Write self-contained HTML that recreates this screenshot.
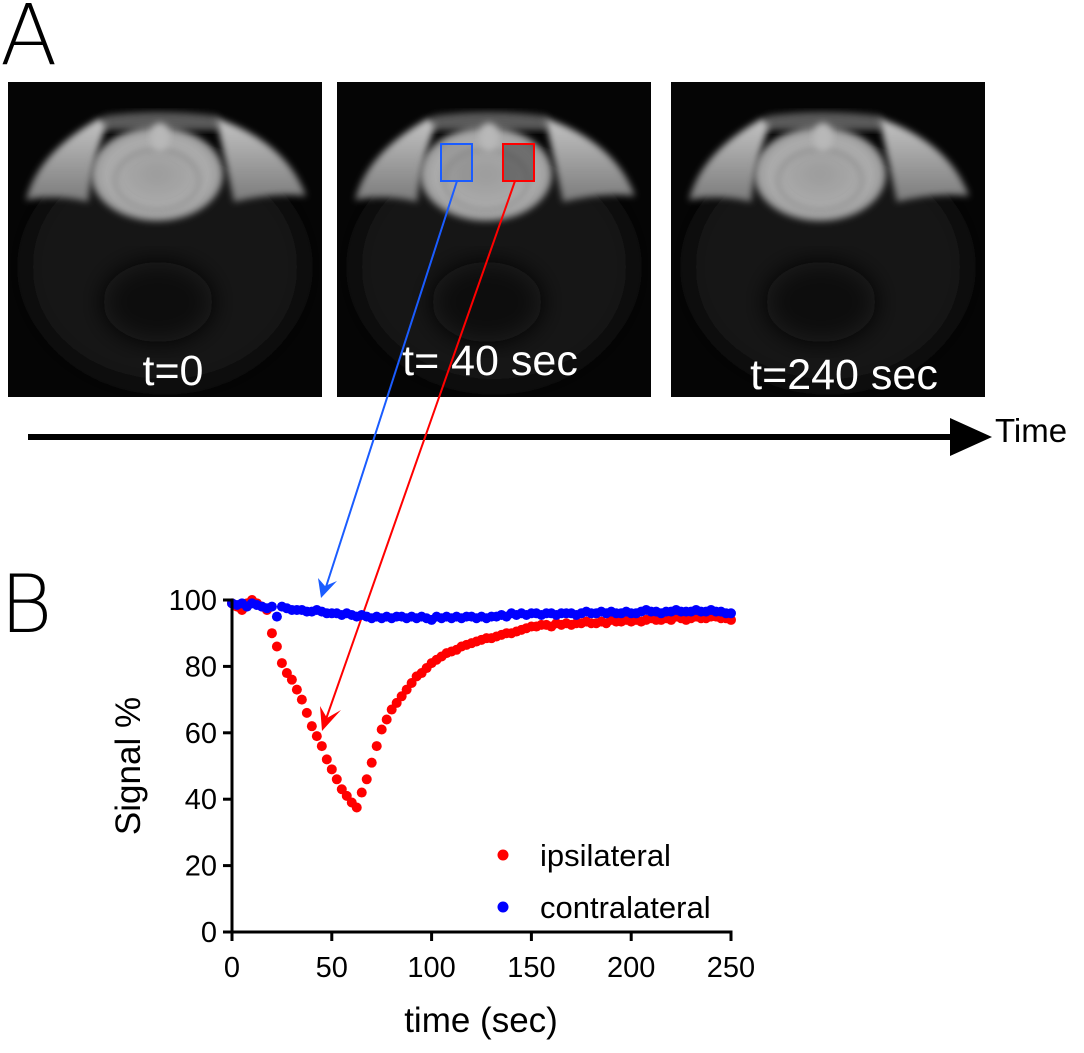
<!DOCTYPE html>
<html><head><meta charset="utf-8">
<style>
body{margin:0;background:#fff;width:1084px;height:1053px;overflow:hidden;font-family:"Liberation Sans",sans-serif}
svg{display:block}
</style></head><body>
<svg id="fig" width="1084" height="1053" viewBox="0 0 1084 1053">
<defs>
<clipPath id="panelClip"><rect x="0" y="0" width="314" height="315"/></clipPath>
<filter id="blur" x="-20%" y="-20%" width="140%" height="140%"><feGaussianBlur stdDeviation="3.5"/></filter>
<filter id="blur2" x="-20%" y="-20%" width="140%" height="140%"><feGaussianBlur stdDeviation="12"/></filter>
<radialGradient id="brainG" cx="50%" cy="50%" r="55%"><stop offset="0" stop-color="#9c9c9c"/><stop offset="0.7" stop-color="#acacac"/><stop offset="1" stop-color="#8c8c8c"/></radialGradient>
<linearGradient id="lobeG" x1="0" y1="0" x2="0" y2="1"><stop offset="0" stop-color="#c4c4c4"/><stop offset="1" stop-color="#7a7a7a"/></linearGradient>
<g id="mri">
<g clip-path="url(#panelClip)">
<rect x="0" y="0" width="314" height="315" fill="#050505"/>
<ellipse cx="157" cy="185" rx="140" ry="120" fill="#151515" filter="url(#blur2)"/>
<ellipse cx="150" cy="220" rx="55" ry="40" fill="#0b0b0b" filter="url(#blur2)"/>
<path d="M95,34 Q150,26 210,34 L212,48 L92,48Z" fill="#5a5a5a" filter="url(#blur)"/>
<path d="M18,118 Q30,70 92,36 L98,44 Q84,80 80,120 Q50,112 18,118Z" fill="url(#lobeG)" filter="url(#blur)"/>
<path d="M208,36 Q278,60 298,114 Q265,110 226,120 Q218,80 208,36Z" fill="url(#lobeG)" filter="url(#blur)"/>
<ellipse cx="149" cy="92" rx="66" ry="47" fill="url(#brainG)" filter="url(#blur)"/>
<ellipse cx="149" cy="98" rx="42" ry="30" fill="none" stroke="#8c8c8c" stroke-width="3" filter="url(#blur)"/>
<ellipse cx="152" cy="55" rx="10" ry="14" fill="#b8b8b8" filter="url(#blur)"/>
</g>
</g>
</defs>

<text x="0" y="64" font-size="84" font-family="DejaVu Sans, sans-serif" font-weight="200" fill="#000">A</text>
<text x="0" y="632" font-size="80" font-family="DejaVu Sans, sans-serif" font-weight="200" fill="#000">B</text>

<g transform="translate(8,82)"><use href="#mri"/></g>
<g transform="translate(337,82)"><use href="#mri"/>
<rect x="104" y="62" width="31" height="37" fill="#777" opacity="0.3"/>
<rect x="166" y="62" width="31" height="37" fill="#333" opacity="0.5"/></g>
<g transform="translate(671,82)"><use href="#mri"/></g>

<text x="173" y="385" font-size="43" fill="#fff" text-anchor="middle">t=0</text>
<text x="490" y="375" font-size="43" fill="#fff" text-anchor="middle">t= 40 sec</text>
<text x="844" y="389" font-size="43" fill="#fff" text-anchor="middle">t=240 sec</text>

<rect x="441" y="144" width="31" height="37" fill="none" stroke="#1a5cff" stroke-width="2"/>
<rect x="503" y="144" width="31" height="37" fill="none" stroke="#ff0000" stroke-width="2"/>

<g>
<line x1="28" y1="437" x2="955" y2="437" stroke="#000" stroke-width="6"/>
<polygon points="950,418 992,437 950,456" fill="#000"/>
</g>
<text x="995" y="442" font-size="33" fill="#000">Time</text>

<g>
<line x1="457" y1="181" x2="325" y2="590" stroke="#1a5cff" stroke-width="2"/>
<polygon points="321,598 318,578 325,586 337,581" fill="#1a5cff"/>
</g>
<g>
<line x1="515" y1="181" x2="325" y2="722" stroke="#ff0000" stroke-width="2"/>
<polygon points="322,731 320,706 327,718 341,710" fill="#ff0000"/>
</g>

<g id="chart"></g>
</svg>
<script>
const xTicks=[0,50,100,150,200,250];
const yTicks=[0,20,40,60,80,100];
const times=[];for(let i=0;i<=100;i++)times.push(i*2.5);
const ipsilateral=[99,98,97,99,100,99,98,97,90,86,81,78,76,73,70,66,62,59,56,52,49,46,43,41,39,37.5,42,46,51,56,61,64,67,69,71,73,75,77,78,79.5,81,82,83,84,84.5,85,86,86.5,87,87.5,88,88.5,88.5,89,89.5,90,90,90.5,91,91.5,92,92,92.5,92.5,92,93,92.5,93,92.5,93,93,93.5,93,93,93.5,93,94,93.5,93.5,94,93.5,94,93.5,94,94.5,94,94,94.5,94,95,94.5,94,94.5,95,94.5,94.5,95,95,94.5,94.5,94];
const contralateral=[99,98.5,99,98,99,98.5,98,97.5,98,95,98,97.5,97,97,97,96.5,96.5,97,96.5,96,96,96,95.5,96,95.5,95,95.5,95,94.5,95,94.5,95,94.5,95,95,94.5,95,94.5,95,94.5,94,95,94.5,95,94.5,95,94.5,95,95,94.5,95,94.5,95,95,95.5,95,96,95.5,96,95.5,96,96,95.5,96,96,95.5,96,96,96,95.5,96,96.5,96,96,96.5,96,96.5,96,96,96.5,96,96,96.5,97,96.5,96.5,96,96.5,96.5,97,96.5,96.5,96.5,97,96.5,96.5,97,96.5,96.5,96,96];
const legendLabels=["ipsilateral","contralateral"];
const seriesColors=["#ff0000","#0000ff"];

const NS="http://www.w3.org/2000/svg";
const g=document.getElementById('chart');
const X0=232,X1=731,Y0=932,Y1=600;
function sx(v){return X0+(v-0)/(250-0)*(X1-X0);}
function sy(v){return Y0-(v-0)/(100-0)*(Y0-Y1);}
function mk(tag,attrs){const e=document.createElementNS(NS,tag);for(const k in attrs)e.setAttribute(k,attrs[k]);g.appendChild(e);return e;}

[ipsilateral,contralateral].forEach((ser,si)=>{
  ser.forEach((v,i)=>{
    const c=mk('circle',{cx:sx(times[i]),cy:sy(v),r:5,fill:seriesColors[si]});
    
    
  });
});
const ya=mk('line',{x1:X0,y1:Y0+1.5,x2:X0,y2:Y1-1.5,stroke:'#000','stroke-width':3});


const xa=mk('line',{x1:X0-1.5,y1:Y0,x2:X1+1.5,y2:Y0,stroke:'#000','stroke-width':3});


yTicks.forEach(v=>{
  const t=mk('line',{x1:X0-9,y1:sy(v),x2:X0,y2:sy(v),stroke:'#000','stroke-width':3});
  
  
  const l=mk('text',{x:X0-15,y:sy(v)+10,'font-size':29,'text-anchor':'end',fill:'#000'});
  l.textContent=v;
  
  
});
xTicks.forEach(v=>{
  const t=mk('line',{x1:sx(v),y1:Y0,x2:sx(v),y2:Y0+9,stroke:'#000','stroke-width':3});
  
  
  const l=mk('text',{x:sx(v),y:Y0+45,'font-size':29,'text-anchor':'middle',fill:'#000'});
  l.textContent=v;
  
  
});
const xt=mk('text',{x:481,y:1032,'font-size':35,'text-anchor':'middle',fill:'#000'});
xt.textContent='time (sec)';


const yt=mk('text',{x:0,y:0,'font-size':35,'text-anchor':'middle',fill:'#000',transform:'translate(140,766) rotate(-90)'});
yt.textContent='Signal %';


legendLabels.forEach((lab,i)=>{
  const y=855+i*52;
  const d=mk('circle',{cx:503,cy:y,r:5.5,fill:seriesColors[i]});
  
  
  const t=mk('text',{x:540,y:y+11,'font-size':31,fill:'#000'});
  t.textContent=lab;
  
  
});
</script>
</body></html>
